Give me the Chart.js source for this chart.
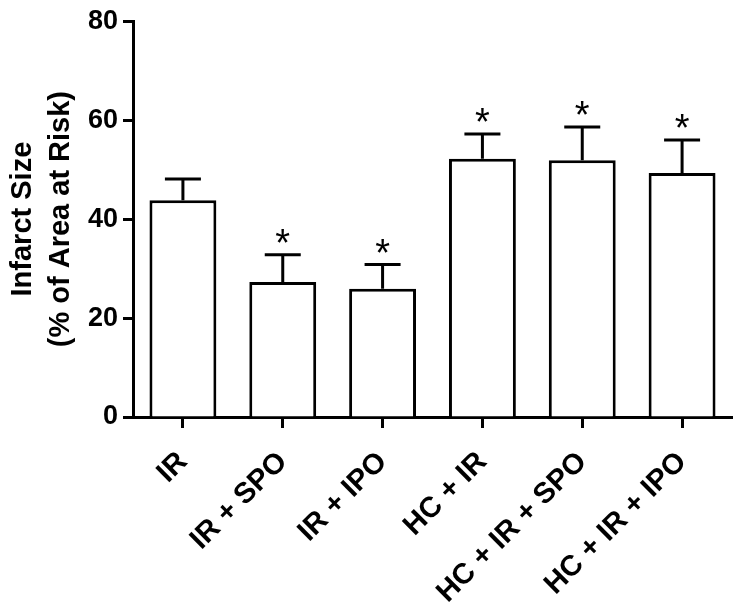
<!DOCTYPE html>
<html>
<head>
<meta charset="utf-8">
<script src="https://cdn.jsdelivr.net/npm/chart.js@4/dist/chart.umd.min.js"></script>
<style>
  html, body { margin: 0; padding: 0; background: #fff; }
  #wrap { width: 740px; height: 612px; }
</style>
</head>
<body>
<div id="wrap"><canvas id="barChart" width="740" height="612"></canvas></div>
<script>
// values
var groups = ['IR', 'IR + SPO', 'IR + IPO', 'HC + IR', 'HC + IR + SPO', 'HC + IR + IPO'];
var infarctMean = [43.8, 27.3, 25.9, 52.2, 51.9, 49.3];
var infarctSem = [4.3, 5.5, 4.9, 5.0, 6.7, 6.7];
var significant = [false, true, true, true, true, true];
var yTicks = [0, 20, 40, 60, 80];

var FONT = "'Liberation Sans', Arial, sans-serif";

// error bars (upper half only) + asterisks
var errorBarPlugin = {
    id: 'errorBars',
    afterDatasetsDraw: function (chart) {
        var ctx = chart.ctx;
        var yScale = chart.scales.y;
        var meta = chart.getDatasetMeta(0);
        ctx.save();
        ctx.strokeStyle = '#000';
        ctx.fillStyle = '#000';
        ctx.lineWidth = 3;
        ctx.lineCap = 'butt';
        meta.data.forEach(function (bar, i) {
            var x = bar.x;
            var yTop = yScale.getPixelForValue(infarctMean[i]);
            var yCap = yScale.getPixelForValue(infarctMean[i] + infarctSem[i]);
            ctx.beginPath();
            ctx.moveTo(x, yTop);
            ctx.lineTo(x, yCap);
            ctx.moveTo(x - 18, yCap);
            ctx.lineTo(x + 18, yCap);
            ctx.stroke();
            if (significant[i]) {
                ctx.font = '38px ' + FONT;
                ctx.textAlign = 'center';
                ctx.textBaseline = 'alphabetic';
                ctx.fillText('*', x, yCap + 1);
            }
        });
        ctx.restore();
    }
};

var ctx = document.getElementById('barChart').getContext('2d');
new Chart(ctx, {
    type: 'bar',
    data: {
        labels: groups,
        datasets: [{
            label: 'Infarct Size',
            data: infarctMean,
            backgroundColor: '#fff',
            borderColor: '#000',
            borderWidth: 3,
            barPercentage: 0.67,
            categoryPercentage: 1
        }]
    },
    options: {
        responsive: false,
        animation: false,
        layout: { padding: { top: 20, right: 8, left: 0, bottom: 0 } },
        plugins: {
            legend: { display: false },
            tooltip: { enabled: false }
        },
        scales: {
            x: {
                grid: {
                    display: true,
                    drawOnChartArea: false,
                    offset: false,
                    drawTicks: true,
                    tickLength: 11,
                    tickWidth: 3,
                    tickColor: '#000'
                },
                border: { display: true, width: 3, color: '#000' },
                ticks: {
                    color: '#000',
                    minRotation: 45,
                    maxRotation: 45,
                    padding: 17,
                    font: { family: FONT, size: 29, weight: 'bold' }
                },
                afterFit: function (scale) { scale.height = 195; }
            },
            y: {
                min: 0,
                max: 80,
                afterBuildTicks: function (scale) {
                    scale.ticks = yTicks.map(function (v) { return { value: v }; });
                },
                grid: {
                    display: true,
                    drawOnChartArea: false,
                    drawTicks: true,
                    tickLength: 10,
                    tickWidth: 3,
                    tickColor: '#000'
                },
                border: { display: true, width: 3, color: '#000' },
                ticks: {
                    color: '#000',
                    padding: 5,
                    font: { family: FONT, size: 27, weight: 'bold' }
                },
                title: {
                    display: true,
                    text: ['Infarct Size', '(% of Area at Risk)'],
                    color: '#000',
                    padding: { top: 4, bottom: 0 },
                    font: { family: FONT, size: 29, weight: 'bold', lineHeight: 1.3 }
                },
                afterFit: function (scale) { scale.width = 133; }
            }
        }
    },
    plugins: [errorBarPlugin]
});
</script>
</body>
</html>
